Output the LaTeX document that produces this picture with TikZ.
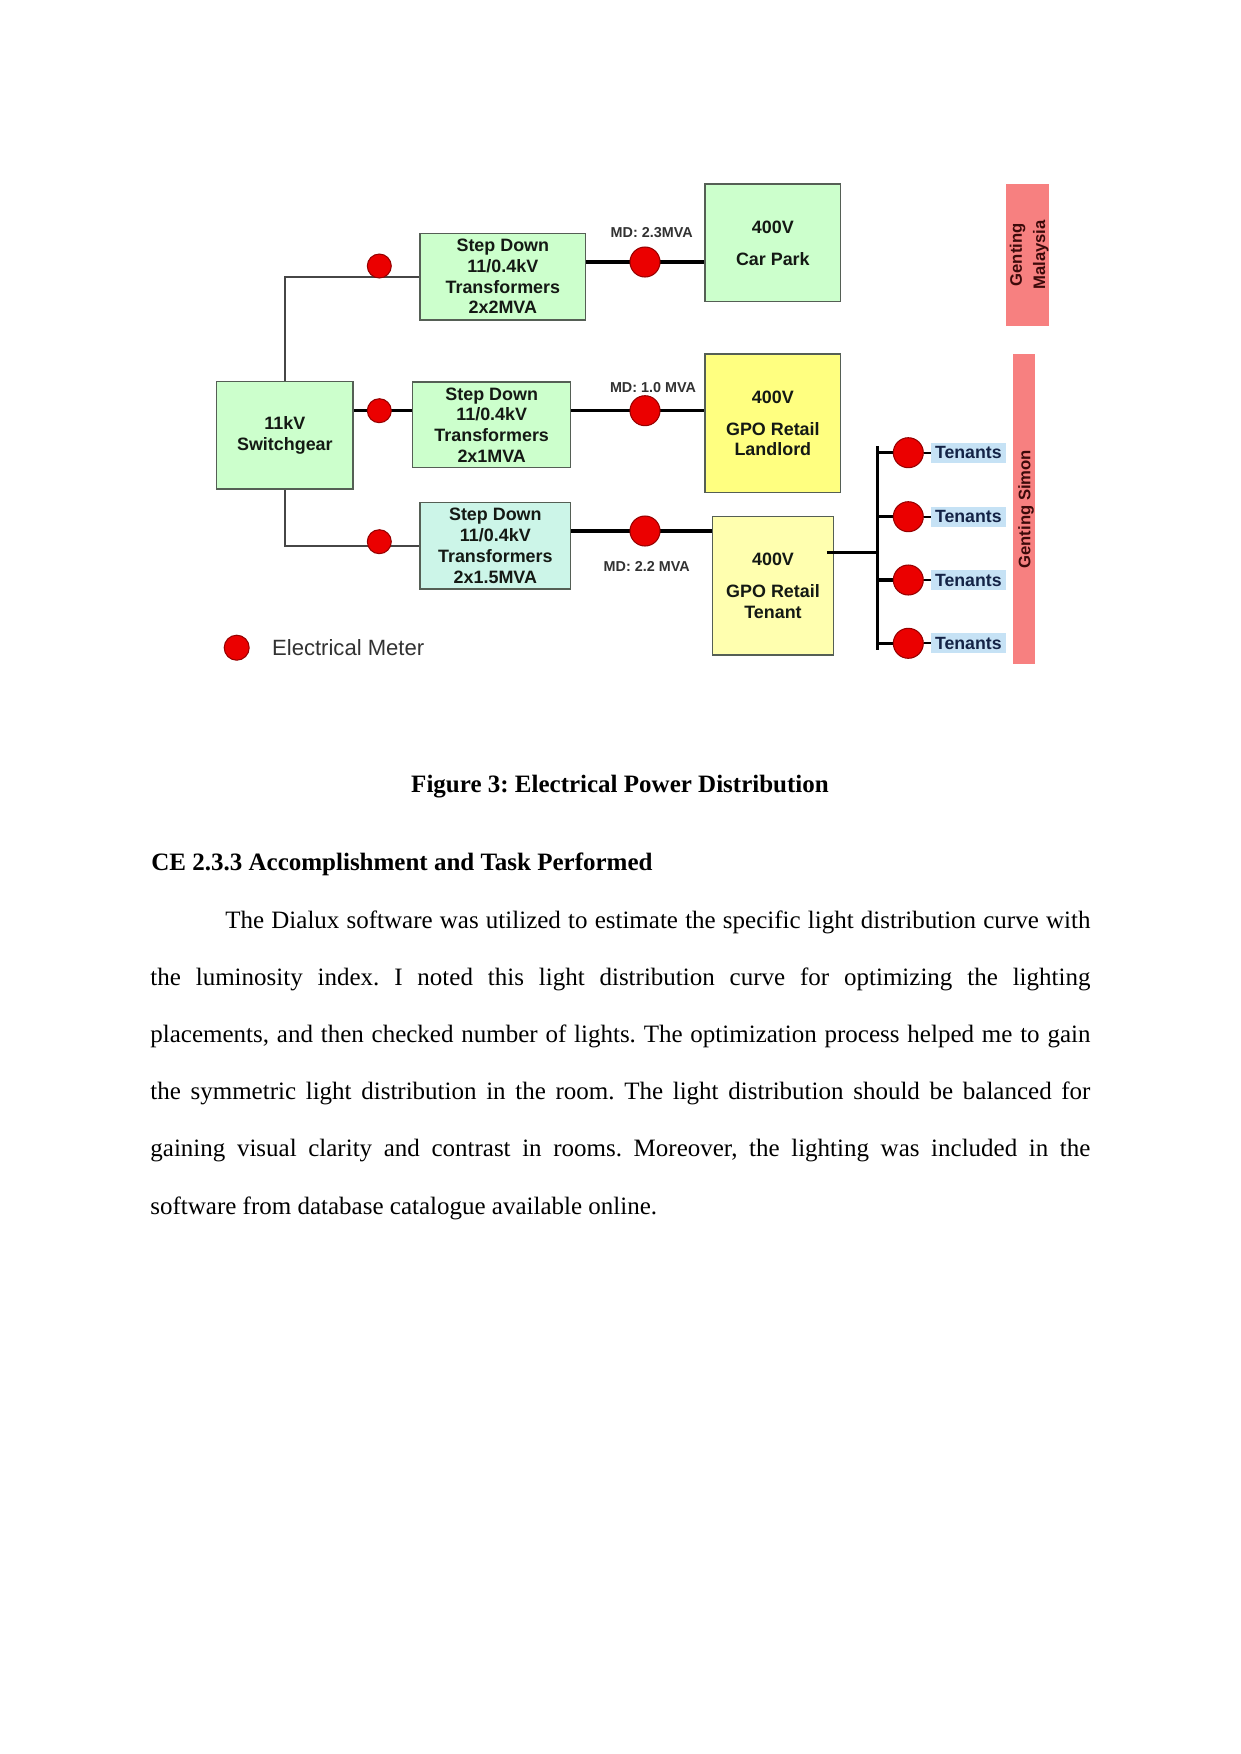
\documentclass[tikz,border=0pt]{standalone}
\usepackage{fontspec}
\setmainfont{Liberation Serif}
\newfontfamily\dfont{Liberation Sans}
\usetikzlibrary{fit,backgrounds}
\frenchspacing
\definecolor{boxgreen}{RGB}{204,255,204}
\definecolor{boxcyan}{RGB}{204,245,232}
\definecolor{landyel}{RGB}{255,255,128}
\definecolor{tenyel}{RGB}{255,255,175}
\definecolor{boxborder}{RGB}{85,95,85}
\definecolor{meterred}{RGB}{235,0,0}
\definecolor{meterdark}{RGB}{150,0,0}
\definecolor{barred}{RGB}{247,128,128}
\definecolor{bartxt}{RGB}{60,10,10}
\definecolor{tenbg}{RGB}{198,226,245}
\definecolor{tentxt}{RGB}{20,35,70}
\definecolor{wiregrey}{RGB}{70,70,70}
\definecolor{mdtxt}{RGB}{50,50,50}
\definecolor{boxtxt}{RGB}{20,25,20}
\begin{document}
\frenchspacing
\begin{tikzpicture}[x=0.48pt,y=-0.48pt,
  box/.style={draw=boxborder, line width=0.7pt, inner sep=0pt},
  boxtext/.style={align=center, inner sep=0pt,
    font=\dfont\fontsize{8.6}{9.94}\selectfont\bfseries, text=boxtxt},
  meterS/.style={circle, fill=meterred, draw=meterdark, line width=0.5pt, minimum size=11.5pt, inner sep=0pt},
  meterL/.style={circle, fill=meterred, draw=meterdark, line width=0.5pt, minimum size=14.4pt, inner sep=0pt},
  wire/.style={line width=1.6pt, black},
  thinwire/.style={line width=1pt, wiregrey},
  stub/.style={line width=1.1pt, black},
  bar/.style={fill=barred, draw=none, inner sep=0pt},
  bartext/.style={font=\dfont\fontsize{8}{11.2}\selectfont\bfseries, text=bartxt, align=center, inner sep=0pt},
  tenlab/.style={fill=tenbg, inner sep=0pt, minimum width=35.7pt, minimum height=9.6pt,
    font=\dfont\fontsize{8.5}{10}\selectfont\bfseries, text=tentxt},
  md/.style={font=\dfont\fontsize{6.9}{8}\selectfont\bfseries, text=mdtxt, inner sep=0pt},
  bodyline/.style={anchor=base west, inner sep=0pt, font=\fontsize{12}{14}\selectfont}
]
\useasboundingbox (0,0) rectangle (1241,1754);

% boxes
\node[box, fill=boxgreen, fit={(216.7,381.7)(353,489)}] (sw) {};
\node[box, fill=boxgreen, fit={(420,233.3)(585.7,320)}] (t1) {};
\node[box, fill=boxgreen, fit={(412.7,382)(570.7,467.7)}] (t2) {};
\node[box, fill=boxcyan, fit={(420,502.7)(570.7,589)}] (t3) {};
\node[box, fill=boxgreen, fit={(705,184)(840.7,301.7)}] (cp) {};
\node[box, fill=landyel, fit={(705,354)(840.7,492.7)}] (ll) {};
\node[box, fill=tenyel, fit={(712.7,516.7)(833.3,655)}] (tn) {};

\node[boxtext] (swt) at (sw.center) {11kV\\Switchgear};
\node[boxtext] (t1t) at (t1.center) {Step Down\\11/0.4kV\\Transformers\\2x2MVA};
\node[boxtext] (t2t) at (t2.center) {Step Down\\11/0.4kV\\Transformers\\2x1MVA};
\node[boxtext] (t3t) at (t3.center) {Step Down\\11/0.4kV\\Transformers\\2x1.5MVA};
\node[boxtext] (cpt) at (cp.center) {400V\\[5.4pt]Car Park};
\node[boxtext] (llt) at (ll.center) {400V\\[5.4pt]GPO Retail\\Landlord};
\node[boxtext] (tnt) at (tn.center) {400V\\[5.4pt]GPO Retail\\Tenant};

% meters
\node[meterS] (m1) at (379.3,266) {};
\node[meterS] (m2) at (379.3,410.7) {};
\node[meterS] (m3) at (379.3,541.7) {};
\node[meterL] (M1) at (645,262) {};
\node[meterL] (M2) at (645,410.7) {};
\node[meterL] (M3) at (645,531) {};

% tenants
\coordinate (bt) at (877.7,446);
\coordinate (bb) at (877.7,650);
\coordinate (tap) at (877.7,552.3);
\foreach \i/\yy in {1/452.7,2/516.7,3/580,4/643.3}{
  \node[meterL] (T\i) at (908.3,\yy) {};
  \node[tenlab, anchor=west] (L\i) at (930.7,\yy) {Tenants};
}

\begin{scope}[on background layer]
  \fill[white] (0,0) rectangle (1241,1754);
  \draw[thinwire] (sw.north) |- (t1.west);
  \draw[wire] (sw.east |- m2) -- (t2.west |- m2);
  \draw[thinwire] (sw.south) |- (t3.west);
  \draw[wire] (t1.east |- M1) -- (cp.west |- M1);
  \draw[wire] (t2.east |- M2) -- (ll.west |- M2);
  \draw[wire] (t3.east |- M3) -- (tn.west |- M3);
  \draw[wire] (bt) -- (bb);
  \foreach \i in {1,...,4}{
    \draw[wire] (bt |- T\i) -- (T\i);
    \draw[stub] (T\i) -- (L\i);
  }
\end{scope}
\draw[wire] ([xshift=-3.4pt]tn.east |- tap) -- (tap);

% MD labels
\node[md] (md1) at (651.7,232.7) {MD: 2.3MVA};
\node[md] (md2) at (653,388) {MD: 1.0 MVA};
\node[md] (md3) at (646.7,566) {MD: 2.2 MVA};

% side bars
\node[bar, fit={(1005.7,184)(1049.3,325.7)}] (gm) {};
\node[bartext, rotate=90] (gmt) at ([xshift=0.8pt]gm.center) {Genting\\Malaysia};
\node[bar, fit={(1013,354)(1035,664.3)}] (gs) {};
\node[bartext, rotate=90] (gst) at ([xshift=1pt]gs.center) {Genting Simon};

% legend
\node[meterS, minimum size=12pt] (lg) at (236.7,647.7) {};
\node[anchor=west, inner sep=0pt, font=\dfont\fontsize{10.6}{12}\selectfont, text=mdtxt] (lgt) at (271.7,647.7) {Electrical Meter};

% caption and text
\node[anchor=base, inner sep=0pt, font=\bfseries\fontsize{12}{14}\selectfont] (cap) at (620,792) {Figure 3: Electrical Power Distribution};
\node[anchor=base west, inner sep=0pt, font=\bfseries\fontsize{12}{14}\selectfont] (head) at (151,870) {CE 2.3.3 Accomplishment and Task Performed};
\node[bodyline] (l1) at (225,928) {\makebox[415.2pt][s]{The Dialux software was utilized to estimate the specific light distribution curve with}};
\node[bodyline] (l2) at (150,985.2) {\makebox[451.2pt][s]{the luminosity index. I noted this light distribution curve for optimizing the lighting}};
\node[bodyline] (l3) at (150,1042.4) {\makebox[451.2pt][s]{placements, and then checked number of lights. The optimization process helped me to gain}};
\node[bodyline] (l4) at (150,1099.6) {\makebox[451.2pt][s]{the symmetric light distribution in the room. The light distribution should be balanced for}};
\node[bodyline] (l5) at (150,1156.8) {\makebox[451.2pt][s]{gaining visual clarity and contrast in rooms. Moreover, the lighting was included in the}};
\node[bodyline] (l6) at (150,1214) {software from database catalogue available online.};
\end{tikzpicture}
\end{document}
